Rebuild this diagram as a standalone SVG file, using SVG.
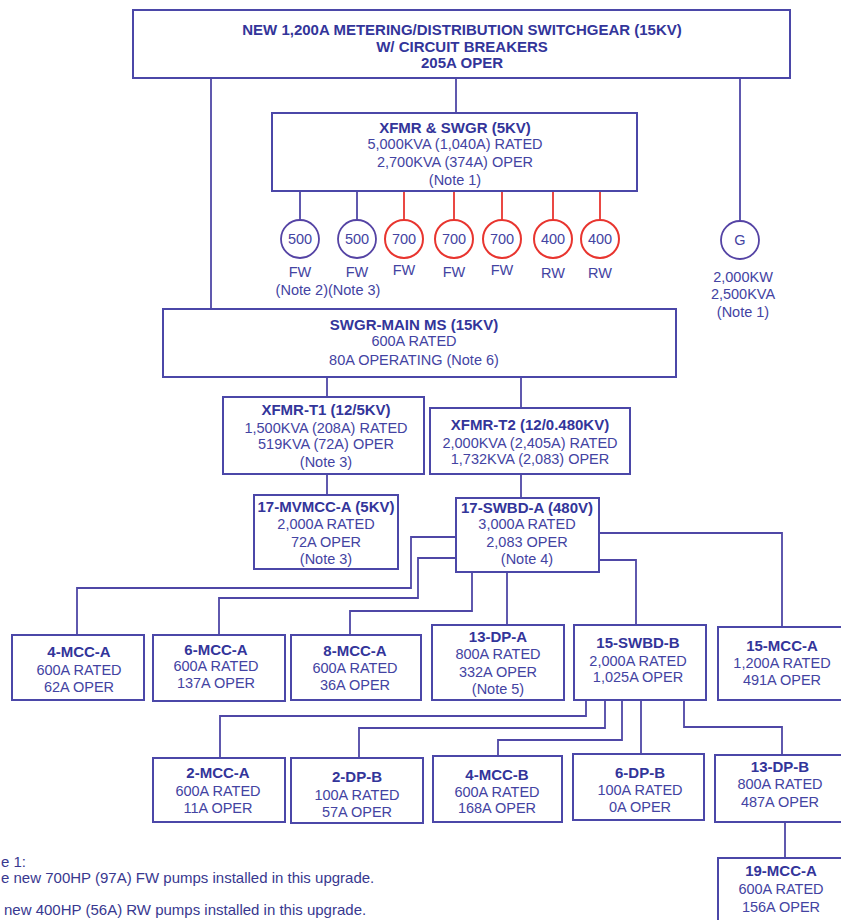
<svg xmlns="http://www.w3.org/2000/svg" width="841" height="920" viewBox="0 0 841 920">
  <style>
    .box { fill: #ffffff; stroke: #4b47a8; stroke-width: 2; }
    .wire { fill: none; stroke: #4f47a6; stroke-width: 1.8; }
    .wire-new { fill: none; stroke: #e8352f; stroke-width: 1.8; }
    .mtr { fill: #ffffff; stroke: #5443a4; stroke-width: 1.8; }
    .mtr-new { fill: #ffffff; stroke: #e8352f; stroke-width: 2; }
    text { font-family: "Liberation Sans", Arial, sans-serif; text-anchor: middle; }
    .t { font-size: 15px; font-weight: bold; fill: #33359a; }
    .r { font-size: 14.5px; fill: #4343a2; }
    .note { font-size: 15px; fill: #38388f; text-anchor: start; }
  </style>

  <rect width="841" height="920" fill="#ffffff"/>

  <!-- connectors -->
  <g id="connectors">
    <!-- from 15kV metering switchgear -->
    <path class="wire" d="M211 78 V309"/>
    <path class="wire" d="M456 78 V113"/>
    <path class="wire" d="M740 78 V221"/>
    <!-- 5kV switchgear to pump motors -->
    <path class="wire" d="M300 191 V220"/>
    <path class="wire" d="M357 191 V220"/>
    <path class="wire-new" d="M404 191 V220"/>
    <path class="wire-new" d="M454 191 V220"/>
    <path class="wire-new" d="M502 191 V220"/>
    <path class="wire-new" d="M553 191 V220"/>
    <path class="wire-new" d="M600 191 V220"/>
    <!-- main switchgear to transformers -->
    <path class="wire" d="M327 377 V397"/>
    <path class="wire" d="M521 377 V408"/>
    <!-- transformers to secondary gear -->
    <path class="wire" d="M327 474 V495"/>
    <path class="wire" d="M521 474 V498"/>
    <!-- 17-SWBD-A feeders -->
    <path class="wire" d="M456 537 H411 V588 H77 V635"/>
    <path class="wire" d="M456 558 H418 V598 H219 V635"/>
    <path class="wire" d="M472 572 V611 H350 V635"/>
    <path class="wire" d="M507 572 V625"/>
    <path class="wire" d="M599 533 H782 V627"/>
    <path class="wire" d="M599 560 H636 V625"/>
    <!-- 15-SWBD-B feeders -->
    <path class="wire" d="M586 700 V716 H220 V758"/>
    <path class="wire" d="M605 700 V728 H359 V758"/>
    <path class="wire" d="M622 700 V740 H498 V756"/>
    <path class="wire" d="M641 700 V754"/>
    <path class="wire" d="M684 700 V727 H782 V755"/>
    <!-- 13-DP-B to 19-MCC-A -->
    <path class="wire" d="M785 822 V858"/>
  </g>

  <g id="swgr-15kv">
    <rect class="box" x="133" y="10" width="657" height="68"/>
    <text class="t" x="462" y="35">NEW 1,200A METERING/DISTRIBUTION SWITCHGEAR (15KV)</text>
    <text class="t" x="462" y="52">W/ CIRCUIT BREAKERS</text>
    <text class="t" x="462" y="68">205A OPER</text>
  </g>

  <g id="xfmr-swgr-5kv">
    <rect class="box" x="272" y="113" width="365" height="78"/>
    <text class="t" x="455" y="133">XFMR &amp; SWGR (5KV)</text>
    <text class="r" x="455" y="149">5,000KVA (1,040A) RATED</text>
    <text class="r" x="455" y="167">2,700KVA (374A) OPER</text>
    <text class="r" x="455" y="185">(Note 1)</text>
  </g>

  <!-- pump motors -->
  <g id="fw-500-a">
    <circle class="mtr" cx="300" cy="239" r="19"/>
    <text class="r" x="300" y="244">500</text>
    <text class="r" x="300" y="277">FW</text>
  </g>
  <g id="fw-500-b">
    <circle class="mtr" cx="357" cy="239" r="19"/>
    <text class="r" x="357" y="244">500</text>
    <text class="r" x="357" y="277">FW</text>
  </g>
  <text class="r" x="328" y="295">(Note 2)(Note 3)</text>
  <g id="fw-700-a">
    <circle class="mtr-new" cx="404" cy="239" r="19"/>
    <text class="r" x="404" y="244">700</text>
    <text class="r" x="404" y="275">FW</text>
  </g>
  <g id="fw-700-b">
    <circle class="mtr-new" cx="454" cy="239" r="19"/>
    <text class="r" x="454" y="244">700</text>
    <text class="r" x="454" y="277">FW</text>
  </g>
  <g id="fw-700-c">
    <circle class="mtr-new" cx="502" cy="239" r="19"/>
    <text class="r" x="502" y="244">700</text>
    <text class="r" x="502" y="275">FW</text>
  </g>
  <g id="rw-400-a">
    <circle class="mtr-new" cx="553" cy="239" r="19"/>
    <text class="r" x="553" y="244">400</text>
    <text class="r" x="553" y="278">RW</text>
  </g>
  <g id="rw-400-b">
    <circle class="mtr-new" cx="600" cy="239" r="19"/>
    <text class="r" x="600" y="244">400</text>
    <text class="r" x="600" y="278">RW</text>
  </g>

  <g id="generator">
    <circle class="mtr" cx="740" cy="240" r="19"/>
    <text class="r" x="740" y="245">G</text>
    <text class="r" x="743" y="282">2,000KW</text>
    <text class="r" x="743" y="299">2,500KVA</text>
    <text class="r" x="743" y="317">(Note 1)</text>
  </g>

  <g id="swgr-main-ms">
    <rect class="box" x="163" y="309" width="513" height="68"/>
    <text class="t" x="414" y="330">SWGR-MAIN MS (15KV)</text>
    <text class="r" x="414" y="346">600A RATED</text>
    <text class="r" x="414" y="365">80A OPERATING (Note 6)</text>
  </g>

  <g id="xfmr-t1">
    <rect class="box" x="223" y="397" width="201" height="77"/>
    <text class="t" x="326" y="415">XFMR-T1 (12/5KV)</text>
    <text class="r" x="326" y="433">1,500KVA (208A) RATED</text>
    <text class="r" x="326" y="449">519KVA (72A) OPER</text>
    <text class="r" x="326" y="467">(Note 3)</text>
  </g>

  <g id="xfmr-t2">
    <rect class="box" x="430" y="408" width="200" height="66"/>
    <text class="t" x="530" y="430">XFMR-T2 (12/0.480KV)</text>
    <text class="r" x="530" y="448">2,000KVA (2,405A) RATED</text>
    <text class="r" x="530" y="464">1,732KVA (2,083) OPER</text>
  </g>

  <g id="mvmcc-17a">
    <rect class="box" x="254" y="495" width="144" height="74"/>
    <text class="t" x="326" y="512">17-MVMCC-A (5KV)</text>
    <text class="r" x="326" y="529">2,000A RATED</text>
    <text class="r" x="326" y="547">72A OPER</text>
    <text class="r" x="326" y="564">(Note 3)</text>
  </g>

  <g id="swbd-17a">
    <rect class="box" x="456" y="498" width="143" height="74"/>
    <text class="t" x="527" y="513">17-SWBD-A (480V)</text>
    <text class="r" x="527" y="529">3,000A RATED</text>
    <text class="r" x="527" y="547">2,083 OPER</text>
    <text class="r" x="527" y="564">(Note 4)</text>
  </g>

  <g id="mcc-4a">
    <rect class="box" x="12" y="635" width="132" height="65"/>
    <text class="t" x="79" y="657">4-MCC-A</text>
    <text class="r" x="79" y="675">600A RATED</text>
    <text class="r" x="79" y="692">62A OPER</text>
  </g>
  <g id="mcc-6a">
    <rect class="box" x="153" y="635" width="132" height="66"/>
    <text class="t" x="216" y="655">6-MCC-A</text>
    <text class="r" x="216" y="671">600A RATED</text>
    <text class="r" x="216" y="688">137A OPER</text>
  </g>
  <g id="mcc-8a">
    <rect class="box" x="291" y="635" width="130" height="65"/>
    <text class="t" x="355" y="656">8-MCC-A</text>
    <text class="r" x="355" y="673">600A RATED</text>
    <text class="r" x="355" y="690">36A OPER</text>
  </g>
  <g id="dp-13a">
    <rect class="box" x="432" y="625" width="132" height="75"/>
    <text class="t" x="498" y="642">13-DP-A</text>
    <text class="r" x="498" y="659">800A RATED</text>
    <text class="r" x="498" y="677">332A OPER</text>
    <text class="r" x="498" y="694">(Note 5)</text>
  </g>
  <g id="swbd-15b">
    <rect class="box" x="574" y="625" width="132" height="75"/>
    <text class="t" x="638" y="648">15-SWBD-B</text>
    <text class="r" x="638" y="666">2,000A RATED</text>
    <text class="r" x="638" y="682">1,025A OPER</text>
  </g>
  <g id="mcc-15a">
    <rect class="box" x="718" y="627" width="126" height="73"/>
    <text class="t" x="782" y="651">15-MCC-A</text>
    <text class="r" x="782" y="668">1,200A RATED</text>
    <text class="r" x="782" y="685">491A OPER</text>
  </g>

  <g id="mcc-2a">
    <rect class="box" x="153" y="758" width="132" height="64"/>
    <text class="t" x="218" y="778">2-MCC-A</text>
    <text class="r" x="218" y="796">600A RATED</text>
    <text class="r" x="218" y="813">11A OPER</text>
  </g>
  <g id="dp-2b">
    <rect class="box" x="291" y="758" width="132" height="65"/>
    <text class="t" x="357" y="782">2-DP-B</text>
    <text class="r" x="357" y="800">100A RATED</text>
    <text class="r" x="357" y="817">57A OPER</text>
  </g>
  <g id="mcc-4b">
    <rect class="box" x="433" y="756" width="129" height="66"/>
    <text class="t" x="497" y="780">4-MCC-B</text>
    <text class="r" x="497" y="797">600A RATED</text>
    <text class="r" x="497" y="813">168A OPER</text>
  </g>
  <g id="dp-6b">
    <rect class="box" x="573" y="754" width="131" height="66"/>
    <text class="t" x="640" y="778">6-DP-B</text>
    <text class="r" x="640" y="795">100A RATED</text>
    <text class="r" x="640" y="812">0A OPER</text>
  </g>
  <g id="dp-13b">
    <rect class="box" x="715" y="755" width="129" height="67"/>
    <text class="t" x="780" y="772">13-DP-B</text>
    <text class="r" x="780" y="789">800A RATED</text>
    <text class="r" x="780" y="807">487A OPER</text>
  </g>
  <g id="mcc-19a">
    <rect class="box" x="718" y="858" width="126" height="70"/>
    <text class="t" x="781" y="876">19-MCC-A</text>
    <text class="r" x="781" y="894">600A RATED</text>
    <text class="r" x="781" y="912">156A OPER</text>
  </g>

  <!-- notes -->
  <g id="notes">
    <text class="note" x="1" y="867">e 1:</text>
    <text class="note" x="1" y="883">e new 700HP (97A) FW pumps installed in this upgrade.</text>
    <text class="note" x="4" y="915">new 400HP (56A) RW pumps installed in this upgrade.</text>
  </g>
</svg>
